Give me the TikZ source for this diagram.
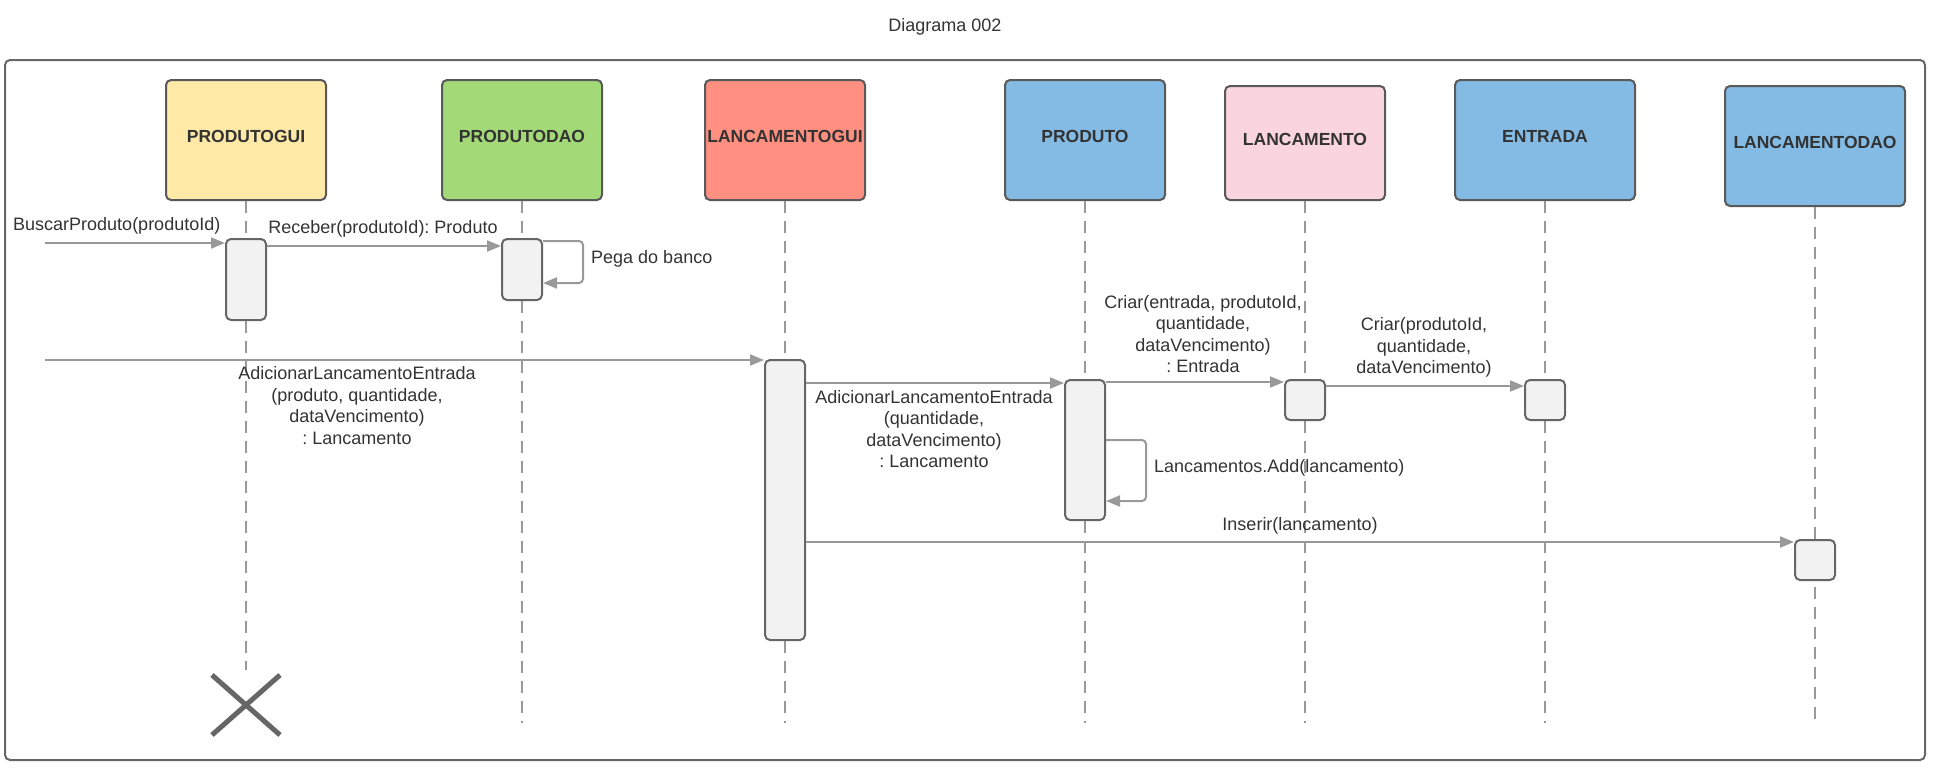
\documentclass[tikz,border=0pt]{standalone}
\usepackage{fontspec}
\setmainfont{Liberation Sans}
\usetikzlibrary{arrows.meta}
\frenchspacing
\definecolor{frameC}{HTML}{666666}
\definecolor{boxC}{HTML}{595959}
\definecolor{txtC}{HTML}{333333}
\definecolor{lineC}{HTML}{999999}
\definecolor{actC}{HTML}{666666}
\definecolor{actF}{HTML}{F2F2F2}
\definecolor{cYellow}{HTML}{FFE9A6}
\definecolor{cGreen}{HTML}{A3D977}
\definecolor{cSalmon}{HTML}{FF8F80}
\definecolor{cBlue}{HTML}{83BBE5}
\definecolor{cPink}{HTML}{FAD4DF}
\begin{document}
\begin{tikzpicture}[x=1pt,y=-1pt,
  part/.style={draw=boxC, line width=2pt, rounded corners=5pt, minimum width=160pt, minimum height=120pt, inner sep=0pt, text height=12.5pt, text depth=7pt, font=\fontsize{17.5}{21}\selectfont\bfseries, text=txtC},
  act/.style={draw=actC, fill=actF, line width=2pt, rounded corners=5pt, minimum width=40pt, inner sep=0pt},
  life/.style={draw=lineC, line width=2pt, dash pattern=on 12pt off 8pt},
  msg/.style={draw=lineC, line width=2pt, -{Triangle[length=14pt,width=11pt]}},
  lbl/.style={font=\fontsize{18}{21.5}\selectfont\frenchspacing, text=txtC, inner sep=0pt, align=center}
]
\useasboundingbox (0,0) rectangle (1938,769);

\node[lbl] (title) at (945,27) {Diagrama 002};
\node[draw=frameC, line width=2pt, rounded corners=5pt, minimum width=1920pt, minimum height=700pt, inner sep=0pt] (frame) at (965,410) {};

% participants
\node[part, fill=cYellow] (p1) at (246,140) {PRODUTOGUI};
\node[part, fill=cGreen] (p2) at (522,140) {PRODUTODAO};
\node[part, fill=cSalmon] (p3) at (785,140) {LANCAMENTOGUI};
\node[part, fill=cBlue] (p4) at (1085,140) {PRODUTO};
\node[part, fill=cPink, minimum height=114pt] (p5) at (1305,143) {LANCAMENTO};
\node[part, fill=cBlue, minimum width=180pt] (p6) at (1545,140) {ENTRADA};
\node[part, fill=cBlue, minimum width=180pt] (p7) at (1815,146) {LANCAMENTODAO};

% lifeline ends
\coordinate (e1) at (246,670);
\coordinate (e2) at (522,723);
\coordinate (e3) at (785,723);
\coordinate (e4) at (1085,723);
\coordinate (e5) at (1305,723);
\coordinate (e6) at (1545,723);
\coordinate (e7) at (1815,723);
\draw[life] (p1.south) -- (e1);
\draw[life] (p2.south) -- (e2);
\draw[life] (p3.south) -- (e3);
\draw[life] (p4.south) -- (e4);
\draw[life] (p5.south) -- (e5);
\draw[life] (p6.south) -- (e6);
\draw[life] (p7.south) -- (e7);

% destroy mark
\coordinate (kill) at (246,705);
\draw[frameC, line width=5pt] (kill) ++(-34,-30) -- ++(68,60);
\draw[frameC, line width=5pt] (kill) ++(-34,30) -- ++(68,-60);

% activations
\node[act, minimum height=81pt] (a1) at (246,279.5) {};
\node[act, minimum height=61pt] (a2) at (522,269.5) {};
\node[act, minimum height=280pt] (a3) at (785,500) {};
\node[act, minimum height=140pt] (a4) at (1085,450) {};
\node[act, minimum height=40pt] (a5) at (1305,400) {};
\node[act, minimum height=40pt] (a6) at (1545,400) {};
\node[act, minimum height=40pt] (a7) at (1815,560) {};

% messages
\coordinate (s1) at (45,243);
\draw[msg] (s1) -- (a1.west |- s1);
\node[lbl, anchor=west] (l1) at (13,226) {BuscarProduto(produtoId)};

\draw[msg] (a1.east |- 0,246) -- (a2.west |- 0,246);
\node[lbl] (l2) at (383,229) {Receber(produtoId): Produto};

\draw[msg, rounded corners=4pt] (a2.east |- 0,241) -- (583,241) -- (583,283) -- (a2.east |- 0,283);
\node[lbl, anchor=west] (l3) at (591,259) {Pega do banco};

\coordinate (s2) at (45,360);
\draw[msg] (s2) -- (a3.west |- s2);
\node[lbl] (l4) at (357,405.5) {AdicionarLancamentoEntrada\\(produto, quantidade,\\dataVencimento)\\: Lancamento};

\draw[msg] (a3.east |- 0,383) -- (a4.west |- 0,383);
\node[lbl] (l5) at (934,429) {AdicionarLancamentoEntrada\\(quantidade,\\dataVencimento)\\: Lancamento};

\draw[msg] (a4.east |- 0,382) -- (a5.west |- 0,382);
\node[lbl] (l6) at (1203,334) {Criar(entrada, produtoId,\\quantidade,\\dataVencimento)\\: Entrada};

\draw[msg] (a5.east |- 0,386) -- (a6.west |- 0,386);
\node[lbl] (l7) at (1424,347.5) {Criar(produtoId,\\quantidade,\\dataVencimento)};

\draw[msg, rounded corners=4pt] (a4.east |- 0,440) -- (1146,440) -- (1146,501) -- (a4.east |- 0,501);
\node[lbl, anchor=west] (l8) at (1154,468) {Lancamentos.Add(lancamento)};

\draw[msg] (a3.east |- 0,542) -- (a7.west |- 0,542);
\node[lbl] (l9) at (1300,526) {Inserir(lancamento)};
\end{tikzpicture}
\end{document}
